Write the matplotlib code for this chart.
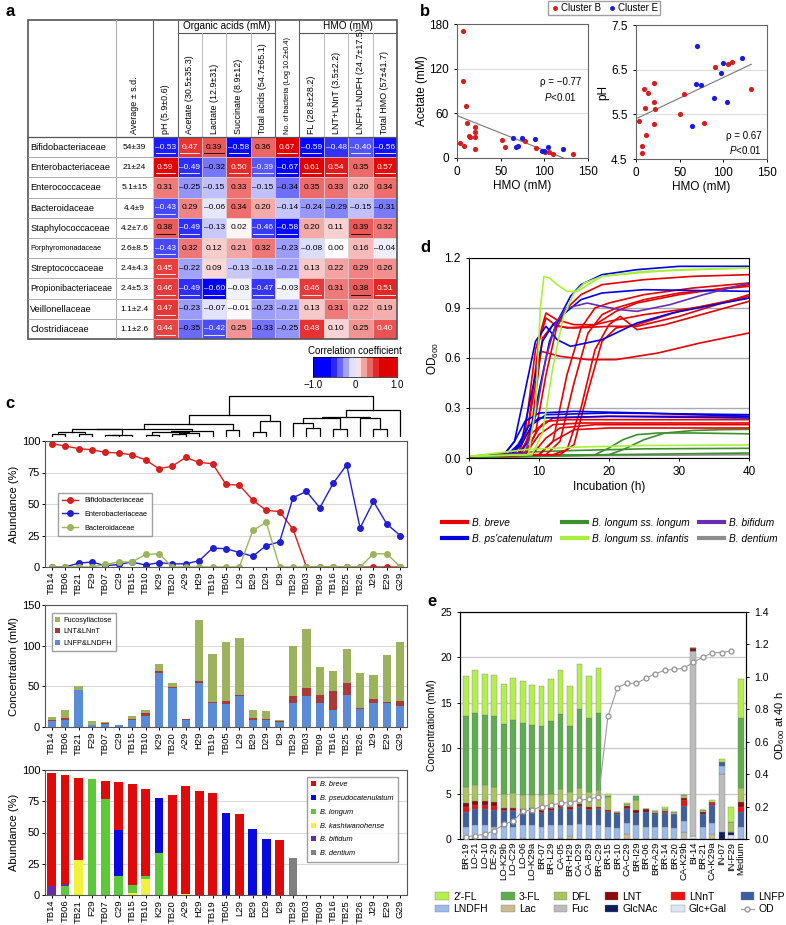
import numpy as np
import matplotlib
matplotlib.use('Agg')
import matplotlib.pyplot as plt
from matplotlib.patches import Rectangle, Patch
from matplotlib.lines import Line2D
from matplotlib.colors import LinearSegmentedColormap, Normalize

plt.rcParams['font.family'] = ['Liberation Sans', 'DejaVu Sans']
plt.rcParams['mathtext.fontset'] = 'custom'
plt.rcParams['mathtext.rm'] = 'Liberation Sans'
plt.rcParams['mathtext.it'] = 'Liberation Sans:italic'
plt.rcParams['axes.linewidth'] = 0.8
plt.rcParams['xtick.major.width'] = 0.7
plt.rcParams['ytick.major.width'] = 0.7
plt.rcParams['xtick.major.size'] = 2.5
plt.rcParams['ytick.major.size'] = 2.5

# ---------------- DATA ----------------
# panel a
families = ['Bifidobacteriaceae', 'Enterobacteriaceae', 'Enterococcaceae', 'Bacteroidaceae',
            'Staphylococcaceae', 'Porphyromonadaceae', 'Streptococcaceae', 'Propionibacteriaceae',
            'Veillonellaceae', 'Clostridiaceae']
family_avg = ['54±39', '21±24', '5.1±15', '4.4±9', '4.2±7.6', '2.6±8.5', '2.4±4.3', '2.4±5.3',
              '1.1±2.4', '1.1±2.6']
table_cols = ['pH (5.9±0.6)', 'Acetate (30.5±35.3)', 'Lactate (12.9±31)', 'Succinate (8.9±12)',
              'Total acids (54.7±65.1)', 'No. of bacteria (Log 10.2±0.4)', 'FL (28.8±28.2)',
              'LNT+LNnT (3.5±2.2)', 'LNFP+LNDFH (24.7±17.5)', 'Total HMO (57±41.7)']
corr = np.array([
    [-0.53, 0.47, 0.39, -0.58, 0.36, 0.67, -0.59, -0.48, -0.40, -0.56],
    [0.59, -0.49, -0.32, 0.50, -0.39, -0.67, 0.61, 0.54, 0.35, 0.57],
    [0.31, -0.25, -0.15, 0.33, -0.15, -0.34, 0.35, 0.33, 0.20, 0.34],
    [-0.43, 0.29, -0.06, 0.34, 0.20, -0.14, -0.24, -0.29, -0.15, -0.31],
    [0.38, -0.49, -0.13, 0.02, -0.46, -0.58, 0.20, 0.11, 0.39, 0.32],
    [-0.43, 0.32, 0.12, 0.21, 0.32, -0.23, -0.08, 0.00, 0.16, -0.04],
    [0.45, -0.22, 0.09, -0.13, -0.18, -0.21, 0.13, 0.22, 0.29, 0.26],
    [0.46, -0.49, -0.60, -0.03, -0.47, -0.03, 0.46, 0.31, 0.38, 0.51],
    [0.47, -0.23, -0.07, -0.01, -0.23, -0.21, 0.13, 0.31, 0.22, 0.19],
    [0.44, -0.35, -0.42, 0.25, -0.33, -0.25, 0.48, 0.10, 0.25, 0.40]])
signif = np.array([
    [1, 1, 1, 1, 0, 1, 1, 0, 1, 1],
    [1, 1, 0, 1, 1, 1, 1, 1, 0, 1],
    [0, 0, 0, 0, 0, 0, 0, 0, 0, 0],
    [1, 0, 0, 0, 0, 0, 0, 0, 0, 0],
    [1, 1, 0, 0, 1, 1, 0, 0, 1, 0],
    [1, 0, 0, 0, 0, 0, 0, 0, 0, 0],
    [1, 0, 0, 0, 0, 0, 0, 0, 0, 0],
    [1, 1, 1, 0, 1, 0, 1, 0, 1, 1],
    [1, 0, 0, 0, 0, 0, 0, 0, 0, 0],
    [1, 0, 1, 0, 0, 0, 0, 0, 0, 0]], bool)

# panel b
acet_B_hmo = [6.9, 7, 10, 12, 14, 3, 8, 15, 20.6, 21, 21, 21, 51.5, 55, 78, 91, 105, 110, 133, 101]
acet_B_val = [171, 104, 70, 47, 29, 20, 16, 28, 42, 35, 28, 12, 24, 15, 23, 14, 8, 6, 5, 8]
acet_E_hmo = [64, 74, 89, 68, 70, 104, 97, 100, 121]
acet_E_val = [27, 27, 26, 15, 16, 15, 9, 9, 12]
acet_fit_x = [0, 122]
acet_fit_y = [57, 0]
ph_B_hmo = [3.5, 7, 7, 12, 9, 14, 10, 21, 21, 22, 21, 50, 55, 78, 90, 105, 110, 132]
ph_B_val = [5.35, 4.64, 4.79, 5.04, 6.07, 5.98, 5.64, 6.20, 5.78, 5.62, 5.29, 5.50, 5.96, 5.30,
            6.56, 6.63, 6.67, 6.07]
ph_E_hmo = [70, 69, 74, 64, 89, 100, 97, 104, 121]
ph_E_val = [7.03, 6.18, 6.16, 5.24, 5.87, 6.65, 6.43, 5.78, 6.76]
ph_fit_x = [2, 132]
ph_fit_y = [5.42, 6.62]

# panel c
samples = ['TB14', 'TB06', 'TB21', 'F29', 'TB07', 'C29', 'TB15', 'TB10', 'K29', 'TB20', 'A29',
           'H29', 'TB19', 'TB05', 'L29', 'B29', 'D29', 'I29', 'TB29', 'TB03', 'TB09', 'TB16',
           'TB25', 'TB26', 'J29', 'E29', 'G29']
bifido = [98, 96, 94, 93, 91, 90.5, 89, 85, 78, 80, 87, 83, 82, 65.5, 65, 53, 45, 44, 30,
          0, 0, 0, 0, 0, 0, 0, 0]
entero = [0, 0, 3, 4, 1, 2, 4, 1.5, 3.5, 2.5, 2.5, 5, 15, 14.5, 11.5, 8.5, 17, 20, 55, 60, 47,
          66.5, 81, 31, 52, 34, 25]
bactero = [0, 0, 0, 0, 2, 4, 4, 10, 10.5, 0, 0, 0, 0, 0, 0, 29, 35.5, 0, 0, 0, 0, 0, 0, 0,
           10.5, 10.5, 0]
dendro = [('a1', 'TB14', 'TB06', 3), ('a2', 'TB21', 'F29', 3), ('a3', 'a1', 'a2', 4.3),
          ('a4', 'TB07', 'C29', 1.7), ('a5', 'a4', 'TB15', 2.3), ('a6', 'a3', 'a5', 7.3),
          ('b1', 'TB10', 'K29', 2.3), ('b2', 'TB20', 'A29', 3), ('b3', 'b2', 'H29', 4),
          ('b4', 'b1', 'b3', 5), ('b5', 'b4', 'TB19', 6), ('c1', 'a6', 'b5', 8),
          ('d1', 'TB05', 'L29', 6.3), ('c2', 'c1', 'd1', 12.3),
          ('e1', 'B29', 'D29', 4.7), ('e2', 'e1', 'I29', 15.7), ('f1', 'c2', 'e2', 20.7),
          ('r1', 'TB03', 'TB09', 8.3), ('r2', 'TB29', 'r1', 13.3), ('r3', 'TB16', 'TB25', 7.3),
          ('r4', 'r2', 'r3', 18.3), ('r5', 'J29', 'E29', 8), ('r6', 'TB26', 'r5', 18),
          ('r7', 'r4', 'r6', 19), ('r8', 'r7', 'G29', 25.7), ('top', 'f1', 'r8', 39)]
hmo_lnfp = [7, 9, 45, 2, 4, 2, 8, 14, 67, 48, 9, 54, 29, 28, 38, 9, 9, 6, 30, 38, 29, 21, 39,
            22, 30, 30, 26]
hmo_lnt = [2, 2, 1, 1, 1, 0.5, 2, 3, 2, 1, 1, 2, 2, 4, 1, 2, 1, 1, 8, 10, 10, 23, 15, 1, 5, 1, 6]
hmo_fuc = [3, 10, 4, 4, 1, 0.5, 3, 4, 9, 5, 0, 75, 59, 72, 70, 10, 10, 2, 61, 72, 35, 25, 42,
           44, 29, 57, 72]
sp_kash = [0, 0, 28, 0, 0, 0, 1.5, 12.5, 0, 0, 0.5, 0, 0, 0, 0, 0, 0, 0, 0, 0, 0, 0, 0, 0, 0, 0, 0]
sp_longum = [0, 7.5, 0, 93, 77, 15, 6.5, 3, 34, 0, 0, 0, 0, 0, 0, 0, 0, 0, 0, 0, 0, 0, 0, 0, 0, 0, 0]
sp_bifidum = [7, 1, 0, 0, 0, 0, 0, 0, 0, 0, 0, 0, 0, 0, 0, 0, 0, 0, 0, 0, 0, 0, 0, 0, 0, 0, 0]
sp_pseudo = [0, 0, 0, 0, 0, 37, 0, 0, 44, 0, 0, 0, 0, 65.5, 0, 53, 45, 0, 0, 0, 0, 0, 0, 0, 0, 0, 0]
sp_breve = [91, 87.5, 66, 0, 14, 38.5, 81, 69.5, 0, 80, 86.5, 83, 82, 0, 65, 0, 0, 44, 0, 0, 0,
            0, 0, 0, 0, 0, 0]
sp_dentium = [0, 0, 0, 0, 0, 0, 0, 0, 0, 0, 0, 0, 0, 0, 0, 0, 0, 0, 30, 0, 0, 0, 0, 0, 0, 0, 0]

# panel d : growth curves (time h, OD600)
breve_curves = [
    ([0, 6.5, 8, 9.5, 11, 12.5, 15, 18, 21, 24, 30, 40],
     [0.01, 0.02, 0.15, 0.65, 0.87, 0.83, 0.80, 0.80, 0.88, 0.93, 0.98, 1.04]),
    ([0, 7, 8.5, 10, 11, 12.6, 15, 20, 24, 30, 40],
     [0.01, 0.02, 0.2, 0.7, 0.84, 0.79, 0.78, 0.79, 0.79, 0.85, 0.98]),
    ([0, 7, 8.5, 10.3, 13, 17, 21, 27, 33, 40],
     [0.01, 0.02, 0.2, 0.64, 0.61, 0.59, 0.59, 0.63, 0.69, 0.75]),
    ([0, 8, 9.5, 11, 12.5, 14, 16, 19, 25, 32, 40],
     [0.01, 0.02, 0.15, 0.5, 0.78, 0.9, 0.98, 1.04, 1.07, 1.09, 1.10]),
    ([0, 12, 14, 16, 18, 20, 21.6, 24, 28, 34, 40],
     [0.01, 0.02, 0.05, 0.3, 0.65, 0.8, 0.85, 0.77, 0.8, 0.87, 0.94]),
    ([0, 11, 13, 15, 17, 19, 21, 25, 30, 40],
     [0.01, 0.02, 0.1, 0.45, 0.75, 0.86, 0.9, 0.95, 0.99, 1.03]),
    ([0, 10, 12, 14, 16, 18, 20, 25, 32, 40],
     [0.01, 0.02, 0.1, 0.5, 0.78, 0.9, 0.93, 0.98, 1.02, 1.05]),
    ([0, 13, 15, 17, 19, 21, 24, 30, 40],
     [0.01, 0.02, 0.08, 0.4, 0.7, 0.78, 0.8, 0.88, 0.97]),
    ([0, 7.5, 9, 10.5, 12, 14, 17, 20, 25, 32, 40],
     [0.01, 0.02, 0.2, 0.72, 0.8, 0.78, 0.79, 0.82, 0.86, 0.9, 0.96]),
    ([0, 7, 9, 11, 14, 20, 30, 40], [0.01, 0.02, 0.15, 0.22, 0.23, 0.23, 0.23, 0.23]),
    ([0, 8, 10, 12, 16, 25, 40], [0.01, 0.02, 0.14, 0.2, 0.21, 0.21, 0.21]),
    ([0, 9, 11, 13, 18, 30, 40], [0.01, 0.02, 0.12, 0.18, 0.2, 0.2, 0.2]),
    ([0, 10, 12, 15, 20, 40], [0.01, 0.02, 0.1, 0.17, 0.18, 0.18]),
    ([0, 8, 10, 12, 20, 40], [0.01, 0.03, 0.18, 0.24, 0.25, 0.25]),
]
pseudo_curves = [
    ([0, 5, 6.5, 8, 9.5, 11, 12.6, 14.5, 19, 24, 29, 40],
     [0.01, 0.02, 0.1, 0.4, 0.7, 0.79, 0.71, 0.67, 0.71, 0.81, 0.87, 0.96]),
    ([0, 6, 7.5, 9, 10.5, 12, 14, 16, 19, 25, 40],
     [0.01, 0.02, 0.1, 0.4, 0.7, 0.8, 0.88, 0.95, 0.99, 1.01, 1.0]),
    ([0, 7, 8.5, 10, 11.5, 13, 14.5, 16, 19, 24, 30, 40],
     [0.01, 0.02, 0.1, 0.4, 0.7, 0.85, 0.97, 1.04, 1.1, 1.13, 1.15, 1.15]),
    ([0, 5, 6.5, 8, 10, 15, 25, 40], [0.01, 0.02, 0.1, 0.22, 0.27, 0.28, 0.27, 0.25]),
    ([0, 6, 7.5, 9, 11, 20, 40], [0.01, 0.02, 0.08, 0.2, 0.26, 0.27, 0.26]),
    ([0, 5.5, 7, 8.5, 10, 20, 40], [0.01, 0.02, 0.08, 0.19, 0.24, 0.25, 0.24]),
]
bifidum_curves = [
    ([0, 8, 9.5, 11, 12.5, 14, 16.9, 19, 21.6, 24, 28.7, 33.5, 40],
     [0.01, 0.03, 0.25, 0.6, 0.82, 0.9, 0.93, 0.91, 0.89, 0.88, 0.92, 0.98, 1.05]),
]
infantis_curves = [
    ([0, 8.5, 9.5, 10.2, 10.7, 11.5, 12.6, 14, 15.5, 17, 19, 24, 30, 40],
     [0.01, 0.02, 0.3, 0.9, 1.09, 1.08, 1.04, 1.0, 1.0, 1.04, 1.09, 1.11, 1.13, 1.14]),
    ([0, 9, 10.5, 12, 13.5, 15, 16.5, 19, 25, 40],
     [0.01, 0.02, 0.15, 0.55, 0.85, 0.99, 1.05, 1.09, 1.12, 1.14]),
    ([0, 8, 15, 25, 40], [0.01, 0.05, 0.065, 0.075, 0.078]),
]
longum_curves = [
    ([0, 18, 20, 22, 24, 27, 32, 40], [0.01, 0.02, 0.06, 0.11, 0.14, 0.15, 0.15, 0.145]),
    ([0, 20, 22, 25, 28, 32, 36, 40], [0.01, 0.02, 0.05, 0.11, 0.15, 0.165, 0.17, 0.172]),
    ([0, 8, 15, 25, 40], [0.01, 0.035, 0.045, 0.055, 0.058]),
    ([0, 10, 20, 40], [0.0, 0.01, 0.02, 0.03]),
]
dentium_curves = [
    ([0, 10, 20, 40], [0.0, 0.01, 0.015, 0.02]),
]

# panel e
strains = ['BR-19', 'LO-21', 'LO-10', 'DE-29', 'LO-K29b', 'LO-C29', 'LO-06', 'LO-K29a', 'BR-07',
           'BR-L29', 'CA-05', 'BR-H29', 'CA-D29', 'CA-B29', 'BR-C29', 'BR-15', 'BR-10', 'CA-C29',
           'BR-I29', 'BR-06', 'BR-A29', 'BR-14', 'BR-20', 'CA-K29b', 'BI-14', 'BR-21', 'CA-K29a',
           'IN-07', 'IN-F29', 'Medium']
e_glcgal = [0]*24 + [0.35, 0, 0, 0, 0.45, 0]
e_glcnac = [0]*27 + [0.8, 0.35, 0]
e_fuc = [0]*23 + [0.8, 20.3, 0, 0, 6.4, 0, 0]
e_lac = [0, 0.1, 0, 0, 0, 0, 0.1, 0, 0, 0, 0.15, 0.3, 0, 0, 0,
         0, 0, 0.6, 0, 0, 0, 0, 0, 0, 0, 0, 0.6, 0, 0, 0]
e_lndfh = [1.3, 1.4, 1.55, 1.35, 1.35, 1.35, 1.4, 1.5, 1.35, 1.5, 1.4, 1.2, 1.6, 1.5, 1.5,
           1.35, 1.2, 1.2, 1.5, 1.35, 1.35, 1.35, 1.25, 1.2, 0, 1.35, 1.2, 0.8, 0, 1.3]
e_lnfp = [1.7, 1.8, 1.75, 1.85, 1.75, 1.75, 1.4, 1.5, 1.55, 1.6, 1.85, 1.7, 1.95, 1.7, 1.8,
          1.65, 1.5, 1.5, 1.4, 1.65, 1.4, 1.55, 1.45, 1.6, 0, 1.45, 1.9, 0.5, 0, 1.7]
e_lnnt = [0.5, 0.45, 0.45, 0.45, 0.1, 0.1, 0.1, 0.15, 0.1, 0.1, 0.1, 0.1, 0.1, 0.1, 0.1,
          0.05, 0.05, 0.15, 0, 0, 0, 0.05, 0, 0.65, 0, 0, 0.35, 0, 0, 0.55]
e_lnt = [0.5, 0.45, 0.45, 0.45, 0.25, 0.25, 0.3, 0.3, 0.2, 0.2, 0.25, 0.25, 0.2, 0.25, 0.15,
         0.15, 0.15, 0.2, 0.3, 0.25, 0.15, 0.15, 0.1, 0.3, 0.35, 0.15, 0, 0, 0, 0.55]
e_dfl = [1.76, 1.7, 1.7, 1.66, 1.55, 1.65, 1.6, 1.45, 1.65, 1.6, 1.75, 1.65, 1.8, 1.65, 1.85,
         1.4, 0.1, 0.15, 1.1, 0, 0.2, 0.25, 0.2, 0.25, 0, 0.2, 0, 0, 1.1, 1.5]
e_3fl = [7.74, 8.0, 7.8, 7.84, 7.7, 8.0, 7.9, 7.7, 7.55, 8.0, 8.3, 7.2, 8.65, 8.1, 8.5,
         0.15, 0, 0, 0.45, 0, 0, 0, 0, 0, 0, 0, 0, 0, 0, 7.7]
e_2fl = [4.5, 4.7, 4.5, 4.5, 4.4, 4.6, 4.6, 4.4, 4.4, 4.6, 4.8, 4.4, 5.0, 4.7, 4.9,
         0.2, 0, 0.2, 0, 0, 0, 0.2, 0, 0, 0, 0, 0.2, 0.3, 1.65, 4.3]
e_od = [0.015, 0.02, 0.03, 0.05, 0.09, 0.11, 0.17, 0.18, 0.2, 0.21, 0.22, 0.225, 0.24, 0.245,
        0.26, 0.756, 0.934, 0.96, 0.96, 0.99, 1.02, 1.04, 1.047, 1.053, 1.09, 1.12, 1.15, 1.15,
        1.16, np.nan]

# ---------------- FIGURE ----------------
W, H = 786, 925
fig = plt.figure(figsize=(W / 100, H / 100), dpi=100)


def add_ax(x0, y0, x1, y1, **kw):
    return fig.add_axes([x0 / W, 1 - y1 / H, (x1 - x0) / W, (y1 - y0) / H], **kw)


def plabel(x, y, s):
    fig.text(x / W, 1 - y / H, s, fontsize=12, fontweight='bold', ha='left', va='center')


plabel(5, 12, 'a')
plabel(420, 12, 'b')
plabel(5, 403, 'c')
plabel(420, 248, 'd')
plabel(427, 602, 'e')

# ---------- panel a : table ----------
cmap_rb = LinearSegmentedColormap.from_list('rb', [(0, 0, 1), (1, 1, 1), (0.88, 0, 0)])
norm_rb = Normalize(-0.6, 0.6, clip=True)
ax = add_ax(28, 20, 397, 339)
x_name, x_avg = -5.13, -1.52
y_top = -5.79
ax.set_xlim(x_name, 10)
ax.set_ylim(10, y_top)
ax.axis('off')
name_fs = {'Porphyromonadaceae': 5.2, 'Propionibacteriaceae': 6.2}
nrow, ncol = corr.shape
for i in range(nrow):
    for j in range(ncol):
        v = corr[i, j]
        ax.add_patch(Rectangle((j, i), 1, 1, fc=cmap_rb(norm_rb(v)), ec='#d8d8d8', lw=0.4))
        tc = 'white' if (v >= 0.40 or v <= -0.39) else 'black'
        s = ('%.2f' % v).replace('-', '\u2013')
        ax.text(j + 0.5, i + 0.5, s, ha='center', va='center', fontsize=6, color=tc)
        if signif[i, j]:
            ax.plot([j + 0.1, j + 0.9], [i + 0.8, i + 0.8], color=tc, lw=0.6)
    fs = name_fs.get(families[i], 6.6)
    ax.text(x_name + 0.1, i + 0.52, families[i], ha='left', va='center', fontsize=fs)
    ax.text((x_avg + 0) / 2, i + 0.52, family_avg[i], ha='center', va='center', fontsize=6)
    if i > 0:
        ax.plot([x_name, 0], [i, i], color='#a0a0a0', lw=0.6)
for j, lab in enumerate(table_cols):
    fs = 5.3 if len(lab) > 26 else 6.4
    ax.text(j + 0.5, -0.15, lab, rotation=90, ha='center', va='bottom', fontsize=fs)
ax.text(x_avg / 2, -0.15, 'Average ± s.d.', rotation=90, ha='center', va='bottom', fontsize=6.4)
gy = -5.15
for xs in [(1, 5), (6, 10)]:
    ax.plot(xs, [gy, gy], color='#555555', lw=0.8)
ax.text(3, (y_top + gy) / 2, 'Organic acids (mM)', ha='center', va='center', fontsize=7.2)
ax.text(8, (y_top + gy) / 2, 'HMO (mM)', ha='center', va='center', fontsize=7.2)
for xv in [x_avg]:
    ax.plot([xv, xv], [y_top, 10], color='#b0b0b0', lw=0.8)
for xv in [0, 1, 5, 6]:
    ax.plot([xv, xv], [y_top, 0], color='#606060', lw=0.8)
for xv in [2, 3, 4, 7, 8, 9]:
    ax.plot([xv, xv], [gy, 0], color='#b0b0b0', lw=0.6)
ax.plot([x_name, 10], [0, 0], color='#555555', lw=0.9)
ax.add_patch(Rectangle((x_name, y_top), 10 - x_name, 10 - y_top, fill=False, ec='#555555',
                       lw=1.2, clip_on=False))

# colorbar
axc = add_ax(313, 357, 397, 377)
cb_centers = np.linspace(-1 + 1 / 14, 1 - 1 / 14, 14)
axc.imshow(cb_centers[None, :], cmap=cmap_rb, norm=norm_rb, extent=[-1, 1, 0, 1],
           aspect='auto')
axc.set_xticks([-1, 0, 1])
axc.set_xticklabels(['\u22121.0', '0', '1.0'], fontsize=7)
axc.tick_params(axis='x', length=0, pad=2)
axc.set_yticks([])
axc.set_title('Correlation coefficient', fontsize=7, pad=2)
for sp in axc.spines.values():
    sp.set_linewidth(0.5)

# ---------- panel b ----------
RED, BLUE = '#d61e1e', '#1a1ae0'
axb1 = add_ax(457, 24, 588, 158)
axb2 = add_ax(636, 25, 767, 159)
for a in (axb1, axb2):
    a.set_xlim(0, 150)
    a.set_xticks([0, 50, 100, 150])
    a.tick_params(labelsize=8.5, direction='out')
    a.set_xlabel('HMO (mM)', fontsize=8.5, labelpad=1)
    for sp in a.spines.values():
        sp.set_color('#666666')
axb1.scatter(acet_B_hmo, acet_B_val, s=14, color=RED, zorder=3, lw=0)
axb1.scatter(acet_E_hmo, acet_E_val, s=14, color=BLUE, zorder=3, lw=0)
axb1.plot(acet_fit_x, acet_fit_y, color='#777777', lw=0.8)
axb1.set_ylim(0, 180)
axb1.set_yticks([0, 60, 120, 180])
axb1.yaxis.grid(True, color='#dddddd', lw=0.8)
axb1.set_axisbelow(True)
axb1.set_ylabel('Acetate (mM)', fontsize=8.5, labelpad=1)
axb1.text(0.79, 0.567, '\u03c1 = \u22120.77', transform=axb1.transAxes, fontsize=7,
          ha='center', va='center')
axb1.text(0.79, 0.455, '$P$<0.01', transform=axb1.transAxes, fontsize=7, ha='center',
          va='center')
axb2.scatter(ph_B_hmo, ph_B_val, s=14, color=RED, zorder=3, lw=0)
axb2.scatter(ph_E_hmo, ph_E_val, s=14, color=BLUE, zorder=3, lw=0)
axb2.plot(ph_fit_x, ph_fit_y, color='#777777', lw=0.8)
axb2.set_ylim(4.5, 7.5)
axb2.set_yticks([4.5, 5.5, 6.5, 7.5])
axb2.yaxis.grid(True, color='#dddddd', lw=0.8)
axb2.set_axisbelow(True)
axb2.set_ylabel('pH', fontsize=8.5, labelpad=1)
axb2.text(0.96, 0.17, '\u03c1 = 0.67', transform=axb2.transAxes, fontsize=7, ha='right',
          va='center')
axb2.text(0.96, 0.065, '$P$<0.01', transform=axb2.transAxes, fontsize=7, ha='right',
          va='center')
hb = [Line2D([], [], ls='none', marker='o', ms=3.5, color=RED, mec='none'),
      Line2D([], [], ls='none', marker='o', ms=3.5, color=BLUE, mec='none')]
fig.legend(hb, ['Cluster B', 'Cluster E'], ncol=2, loc='center',
           bbox_to_anchor=(604 / W, 1 - 8 / H), fontsize=7, frameon=True, fancybox=False,
           edgecolor='#888888', handletextpad=0.1, columnspacing=0.6, borderpad=0.25,
           handlelength=1.0)

# ---------- panel c ----------
xs = np.arange(len(samples))
XL = (-0.5, len(samples) - 0.5)
# dendrogram
axd = add_ax(45, 395, 407, 437)
pos = {s: (i, 0.0) for i, s in enumerate(samples)}
for lab, c1, c2, h in dendro:
    x1, h1 = pos[c1]
    x2, h2 = pos[c2]
    axd.plot([x1, x1, x2, x2], [h1, h, h, h2], color='black', lw=0.9)
    pos[lab] = ((x1 + x2) / 2, h)
axd.set_xlim(*XL)
axd.set_ylim(0, 40)
axd.axis('off')

GRID = '#d9d9d9'
ax1 = add_ax(45, 441, 407, 567)
ax1.plot(xs, bifido, '-o', color='#d42020', ms=4, lw=1, label='Bifidobacteriaceae')
ax1.plot(xs, entero, '-o', color='#2020d0', ms=4, lw=1, label='Enterobacteriaceae')
ax1.plot(xs, bactero, '-o', color='#9bb55e', ms=4, lw=1, label='Bacteroidaceae')
ax1.set_ylim(0, 100)
ax1.set_yticks([0, 25, 50, 75, 100])
ax1.set_ylabel('Abundance (%)', fontsize=8, labelpad=2)
ax1.legend(loc='upper left', bbox_to_anchor=(0.025, 0.62), fontsize=5.3, frameon=True,
           fancybox=False, edgecolor='#888888', handlelength=2.2, borderpad=0.6,
           labelspacing=0.9)

ax2 = add_ax(45, 605, 407, 727)
b0 = np.zeros(len(samples))
for vals, col, lab in [(hmo_lnfp, '#5b8bd6', 'LNFP&LNDFH'), (hmo_lnt, '#a83a3a', 'LNT&LNnT'),
                       (hmo_fuc, '#9cb25c', 'Fucosyllactose')]:
    ax2.bar(xs, vals, 0.62, bottom=b0, color=col, label=lab, zorder=2)
    b0 = b0 + np.array(vals)
ax2.set_ylim(0, 150)
ax2.set_yticks([0, 50, 100, 150])
ax2.set_ylabel('Concentration (mM)', fontsize=8, labelpad=2)
hh, ll = ax2.get_legend_handles_labels()
ax2.legend(hh[::-1], ll[::-1], loc='upper left', bbox_to_anchor=(0.008, 0.965), fontsize=5.3,
           frameon=True, fancybox=False, edgecolor='#888888', handlelength=0.7,
           handleheight=0.7, borderpad=0.5, labelspacing=0.6, handletextpad=0.4)

ax3 = add_ax(45, 770, 407, 895)
b0 = np.zeros(len(samples))
sp_layers = [(sp_kash, '#f2f23c', 'B. kashiwanohense'), (sp_longum, '#5ec83c', 'B. longum'),
             (sp_bifidum, '#6a2aa8', 'B. bifidum'), (sp_pseudo, '#0a0ae0', 'B. pseudocatenulatum'),
             (sp_breve, '#e00a0a', 'B. breve'), (sp_dentium, '#808080', 'B. dentium')]
bars = {}
for vals, col, lab in sp_layers:
    bars[lab] = ax3.bar(xs, vals, 0.65, bottom=b0, color=col, label=lab, zorder=2)
    b0 = b0 + np.array(vals)
ax3.set_ylim(0, 100)
ax3.set_yticks([0, 25, 50, 75, 100])
ax3.set_ylabel('Abundance (%)', fontsize=8, labelpad=2)
order = ['B. breve', 'B. pseudocatenulatum', 'B. longum', 'B. kashiwanohense', 'B. bifidum',
         'B. dentium']
ax3.legend([bars[k] for k in order], order, loc='upper right', bbox_to_anchor=(0.985, 0.975),
           frameon=True, fancybox=False, edgecolor='#888888', handlelength=0.7,
           handleheight=0.7, borderpad=0.6, labelspacing=0.9, handletextpad=0.5,
           prop={'style': 'italic', 'size': 5.3})

for a in (ax1, ax2, ax3):
    a.set_xlim(*XL)
    a.set_xticks(xs)
    a.set_xticklabels(samples, rotation=90, fontsize=6.8)
    a.tick_params(axis='y', labelsize=8, pad=1)
    a.tick_params(axis='x', length=2, pad=1.5)
    a.yaxis.grid(True, color=GRID, lw=0.8)
    a.set_axisbelow(True)
    for sp in a.spines.values():
        sp.set_color('#555555')

# ---------- panel d ----------
axg = add_ax(469, 258, 749, 458)
for curves, col in [(dentium_curves, '#8c8c8c'), (longum_curves, '#3d8f2e'),
                    (breve_curves, '#e60000'), (pseudo_curves, '#0000e0'),
                    (bifidum_curves, '#6a2db0'), (infantis_curves, '#a8f03c')]:
    for t, od in curves:
        axg.plot(t, od, color=col, lw=1.2)
axg.set_xlim(0, 40)
axg.set_ylim(0, 1.2)
axg.set_xticks([0, 10, 20, 30, 40])
axg.set_yticks([0, 0.3, 0.6, 0.9, 1.2])
axg.set_yticklabels(['0.0', '0.3', '0.6', '0.9', '1.2'])
axg.tick_params(labelsize=8.5)
axg.yaxis.grid(True, color='#aaaaaa', lw=1)
axg.set_axisbelow(True)
axg.set_xlabel('Incubation (h)', fontsize=8.5, labelpad=2)
axg.set_ylabel('OD$_{600}$', fontsize=8.5, labelpad=2)
lh = [Line2D([], [], color=c, lw=3) for c in
      ['#e60000', '#0000e0', '#3d8f2e', '#a8f03c', '#6a2db0', '#8c8c8c']]
ll = ['B. breve', "B. ps'catenulatum", 'B. longum ss. longum', 'B. longum ss. infantis',
      'B. bifidum', 'B. dentium']
fig.legend(lh, ll, ncol=3, loc='center', bbox_to_anchor=(610 / W, 1 - 531 / H), frameon=False,
           prop={'style': 'italic', 'size': 7.3}, handlelength=2.5, columnspacing=0.9,
           handletextpad=0.5, labelspacing=0.6)

# ---------- panel e ----------
axe = add_ax(460, 612, 746, 839)
xe = np.arange(len(strains))
e_layers = [(e_glcgal, '#dbe5f4', 'Glc+Gal'), (e_glcnac, '#0c1f5c', 'GlcNAc'),
            (e_fuc, '#bcbcbc', 'Fuc'), (e_lac, '#c9bd8f', 'Lac'), (e_lndfh, '#9dbbe8', 'LNDFH'),
            (e_lnfp, '#3e5f9e', 'LNFP'), (e_lnnt, '#e81010', 'LNnT'), (e_lnt, '#8c0a0a', 'LNT'),
            (e_dfl, '#a8c45e', 'DFL'), (e_3fl, '#5eae50', '3-FL'), (e_2fl, '#b4ee50', '2\u2032-FL')]
b0 = np.zeros(len(strains))
eh = {}
for vals, col, lab in e_layers:
    eh[lab] = axe.bar(xe, vals, 0.62, bottom=b0, color=col, ec='#777777', lw=0.25, zorder=2)
    b0 = b0 + np.array(vals)
axe.set_xlim(-0.6, len(strains) - 0.44)
axe.set_ylim(0, 25)
axe.set_yticks([0, 5, 10, 15, 20, 25])
axe.yaxis.grid(True, color='#cccccc', lw=1)
axe.set_axisbelow(True)
axe.set_xticks(xe)
axe.set_xticklabels(strains, rotation=90, fontsize=6.8)
axe.tick_params(axis='x', length=0, pad=2)
axe.tick_params(axis='y', labelsize=7.5)
axe.set_ylabel('Concentration (mM)', fontsize=7.5, labelpad=2)
axo = axe.twinx()
od_line, = axo.plot(xe, e_od, '-o', color='#9a9a9a', mfc='white', mec='#9a9a9a', ms=3.5,
                    lw=0.8, zorder=5)
axo.set_ylim(0, 1.4)
axo.set_yticks(np.arange(0, 1.41, 0.2))
axo.set_yticklabels(['%.1f' % v for v in np.arange(0, 1.41, 0.2)])
axo.tick_params(labelsize=7.5)
axo.set_ylabel('OD$_{600}$ at 40 h', fontsize=8, labelpad=3)
leg_order = ['2\u2032-FL', 'LNDFH', '3-FL', 'Lac', 'DFL', 'Fuc', 'LNT', 'GlcNAc', 'LNnT',
             'Glc+Gal', 'LNFP', 'OD']
eh['OD'] = od_line
fig.legend([eh[k] for k in leg_order], leg_order, ncol=6, loc='center',
           bbox_to_anchor=(610 / W, 1 - 903 / H), frameon=False, fontsize=7.5,
           handlelength=1.3, handleheight=0.7, columnspacing=1.3, handletextpad=0.4,
           labelspacing=0.25)

fig.savefig('out.png', dpi=100)
